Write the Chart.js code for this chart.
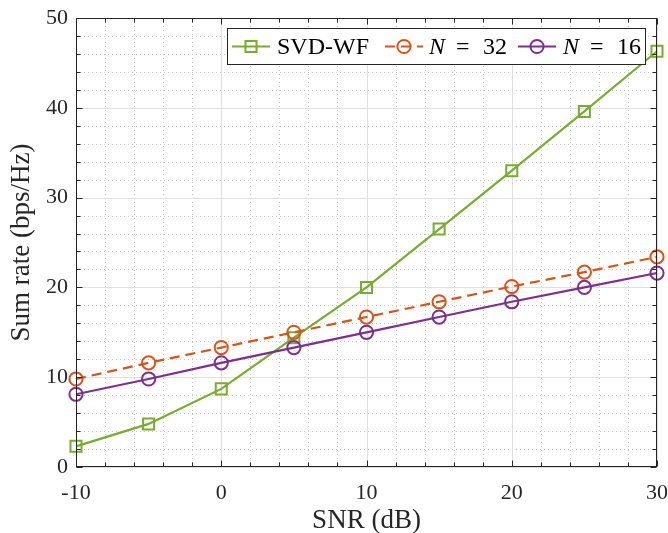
<!DOCTYPE html>
<html>
<head>
<meta charset="utf-8">
<script src="https://cdn.jsdelivr.net/npm/chart.js@4.4.0/dist/chart.umd.min.js"></script>
<style>
  html, body { margin: 0; padding: 0; background: #fff; }
  #wrap { width: 668px; height: 533px; }
</style>
</head>
<body>
<div id="wrap"><canvas id="rateChart" width="668" height="533"></canvas></div>
<script>
// data
const snrDb = [-10, -5, 0, 5, 10, 15, 20, 25, 30];
const svdWf = [2.3, 4.8, 8.7, 14.4, 20.0, 26.5, 33.0, 39.6, 46.3];
const n32 = [9.8, 11.6, 13.3, 15.0, 16.7, 18.4, 20.1, 21.7, 23.4];
const n16 = [8.1, 9.8, 11.6, 13.3, 15.0, 16.7, 18.4, 20.0, 21.6];
const seriesLabels = ['SVD-WF', 'N = 32', 'N = 16'];
const xMajorTicks = [-10, 0, 10, 20, 30];
const yMajorTicks = [0, 10, 20, 30, 40, 50];

const serif = '"Liberation Serif", "Times New Roman", serif';
const ink = '#262626';
const colors = ['#77AC30', '#D95319', '#7E2F8E'];

function toPoints(vals) {
    return snrDb.map((s, i) => ({ x: s, y: vals[i] }));
}

function isMajor(v, list) {
    return list.indexOf(v) !== -1;
}

// grid lines: dotted minor, solid major
const gridPlugin = {
    id: 'matlabGrid',
    beforeDatasetsDraw(chart) {
        const { ctx, chartArea: a, scales: { x, y } } = chart;
        ctx.save();
        ctx.lineWidth = 1;

        ctx.strokeStyle = '#c8c8c8';
        ctx.setLineDash([1, 3]);
        x.ticks.forEach(t => {
            if (isMajor(t.value, xMajorTicks)) return;
            const px = Math.round(x.getPixelForValue(t.value)) + 0.5;
            ctx.beginPath(); ctx.moveTo(px, a.top); ctx.lineTo(px, a.bottom); ctx.stroke();
        });
        y.ticks.forEach(t => {
            if (isMajor(t.value, yMajorTicks)) return;
            const py = Math.round(y.getPixelForValue(t.value)) + 0.5;
            ctx.beginPath(); ctx.moveTo(a.left, py); ctx.lineTo(a.right, py); ctx.stroke();
        });

        ctx.strokeStyle = '#dfdfdf';
        ctx.setLineDash([]);
        xMajorTicks.forEach(v => {
            const px = Math.round(x.getPixelForValue(v)) + 0.5;
            ctx.beginPath(); ctx.moveTo(px, a.top); ctx.lineTo(px, a.bottom); ctx.stroke();
        });
        yMajorTicks.forEach(v => {
            const py = Math.round(y.getPixelForValue(v)) + 0.5;
            ctx.beginPath(); ctx.moveTo(a.left, py); ctx.lineTo(a.right, py); ctx.stroke();
        });
        ctx.restore();
    },
    afterDatasetsDraw(chart) {
        // axes box with inward ticks on all four sides
        const { ctx, chartArea: a, scales: { x, y } } = chart;
        const L = Math.round(a.left) + 0.5, R = Math.round(a.right) - 0.5;
        const T = Math.round(a.top) + 0.5, B = Math.round(a.bottom) - 0.5;
        ctx.save();
        ctx.strokeStyle = ink;
        ctx.lineWidth = 1;
        ctx.strokeRect(L, T, R - L, B - T);
        ctx.beginPath();
        x.ticks.forEach(t => {
            const len = isMajor(t.value, xMajorTicks) ? 6 : 4;
            const px = Math.round(x.getPixelForValue(t.value)) + 0.5;
            ctx.moveTo(px, B); ctx.lineTo(px, B - len);
            ctx.moveTo(px, T); ctx.lineTo(px, T + len);
        });
        y.ticks.forEach(t => {
            const len = isMajor(t.value, yMajorTicks) ? 6 : 4;
            const py = Math.round(y.getPixelForValue(t.value)) + 0.5;
            ctx.moveTo(L, py); ctx.lineTo(L + len, py);
            ctx.moveTo(R, py); ctx.lineTo(R - len, py);
        });
        ctx.stroke();
        ctx.restore();
    }
};

// boxed legend, line + marker like matlab
const legendPlugin = {
    id: 'boxLegend',
    afterDraw(chart) {
        const ctx = chart.ctx;
        const box = { x: 227.5, y: 28.5, w: 418, h: 36 };
        const lineStarts = [232, 385, 518];
        const textStarts = [277, 429, 563];
        const midY = box.y + box.h / 2;
        ctx.save();
        ctx.fillStyle = '#fff';
        ctx.fillRect(box.x, box.y, box.w, box.h);
        ctx.strokeStyle = ink;
        ctx.lineWidth = 1;
        ctx.strokeRect(box.x, box.y, box.w, box.h);

        chart.data.datasets.forEach((ds, i) => {
            const x0 = lineStarts[i], x1 = x0 + 38, cx = (x0 + x1) / 2;
            ctx.strokeStyle = ds.borderColor;
            ctx.lineWidth = 2;
            ctx.setLineDash(ds.borderDash || []);
            ctx.beginPath(); ctx.moveTo(x0, midY); ctx.lineTo(x1, midY); ctx.stroke();
            ctx.setLineDash([]);
            ctx.fillStyle = 'rgba(0,0,0,0)';
            Chart.helpers.drawPoint(ctx, {
                pointStyle: ds.pointStyle, radius: ds.pointRadius,
                borderWidth: 2, rotation: 0
            }, cx, midY);

            ctx.fillStyle = '#000';
            ctx.textBaseline = 'middle';
            const label = seriesLabels[i];
            const tx = textStarts[i];
            if (label.startsWith('N ')) {
                // math style: italic N, wide spacing round '='
                const parts = label.split(' ');
                ctx.font = 'italic 24px ' + serif;
                ctx.fillText(parts[0], tx, midY + 1);
                ctx.font = '24px ' + serif;
                ctx.fillText(parts[1], tx + 27, midY + 1);
                ctx.fillText(parts[2], tx + 54, midY + 1);
            } else {
                ctx.font = '24px ' + serif;
                ctx.fillText(label, tx, midY + 1);
            }
        });
        ctx.restore();
    }
};

const ctx = document.getElementById('rateChart').getContext('2d');
const chart = new Chart(ctx, {
    type: 'line',
    data: {
        datasets: [{
            label: seriesLabels[0],
            data: toPoints(svdWf),
            borderColor: colors[0],
            pointStyle: 'rect',
            pointRadius: 7.8,
            order: 2
        }, {
            label: seriesLabels[1],
            data: toPoints(n32),
            borderColor: colors[1],
            borderDash: [10, 6],
            pointStyle: 'circle',
            pointRadius: 6.6,
            order: 1
        }, {
            label: seriesLabels[2],
            data: toPoints(n16),
            borderColor: colors[2],
            pointStyle: 'circle',
            pointRadius: 6.6,
            order: 0
        }].map(ds => Object.assign(ds, {
            borderWidth: 2.2,
            pointBorderWidth: 2,
            pointBorderColor: ds.borderColor,
            pointBackgroundColor: 'rgba(0,0,0,0)',
            pointHoverRadius: ds.pointRadius,
            tension: 0,
            clip: false
        }))
    },
    options: {
        responsive: false,
        animation: false,
        events: [],
        layout: { padding: { top: 18, right: 11, left: 0, bottom: 0 } },
        plugins: { legend: { display: false }, tooltip: { enabled: false } },
        scales: {
            x: {
                type: 'linear', min: -10, max: 30,
                grid: { display: false, drawTicks: false },
                border: { display: false },
                ticks: {
                    stepSize: 2, autoSkip: false, maxRotation: 0, padding: 13,
                    color: ink, font: { family: serif, size: 22 },
                    callback: v => isMajor(v, xMajorTicks) ? String(v) : ''
                },
                title: {
                    display: true, text: 'SNR (dB)', color: ink,
                    font: { family: serif, size: 27 }, padding: { top: 0, bottom: -4 }
                },
                afterFit: s => { s.height = 66; s.paddingLeft = 0; s.paddingRight = 0; }
            },
            y: {
                min: 0, max: 50,
                grid: { display: false, drawTicks: false },
                border: { display: false },
                ticks: {
                    stepSize: 2, autoSkip: false, padding: 8,
                    color: ink, font: { family: serif, size: 22 },
                    callback: v => isMajor(v, yMajorTicks) ? String(v) : ''
                },
                title: {
                    display: true, text: 'Sum rate (bps/Hz)', color: ink,
                    font: { family: serif, size: 27 }, padding: { top: 6, bottom: 0 }
                },
                afterFit: s => { s.width = 76; s.paddingTop = 0; s.paddingBottom = 0; }
            }
        }
    },
    plugins: [gridPlugin, legendPlugin]
});
</script>
</body>
</html>
